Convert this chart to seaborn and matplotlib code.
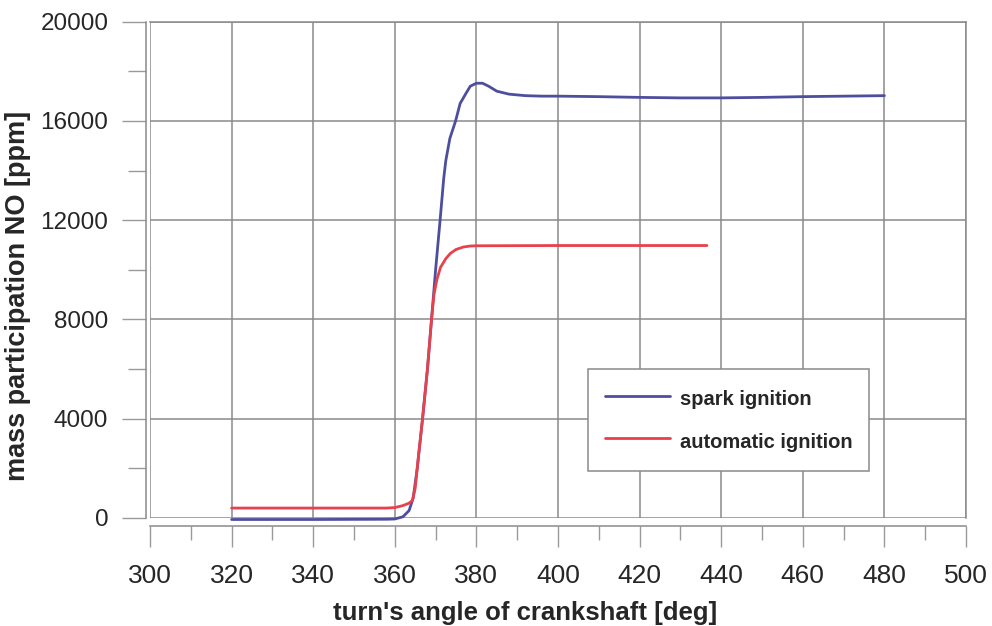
import pandas as pd
import matplotlib
matplotlib.use("Agg")
import matplotlib.pyplot as plt
import matplotlib.ticker as mticker
import seaborn as sns

# ── Data ──────────────────────────────────────────────────────────────────────
spark_x = [320, 340, 358, 360, 362, 363.5, 364.5, 365.5, 366.8, 368, 369, 370,
           371.1, 372, 372.5, 373.5, 374.9, 376, 377.4, 378.5, 380, 381.5, 383,
           385, 388, 392, 396, 400, 410, 420, 430, 440, 450, 460, 470, 480]
spark_y = [-60, -60, -50, -40, 50, 300, 800, 2000, 4000, 6000, 8000, 10000,
           12000, 13700, 14400, 15300, 16000, 16700, 17100, 17400, 17520, 17520, 17400,
           17200, 17080, 17020, 17000, 17000, 16980, 16950, 16930, 16930, 16950, 16980, 17000, 17020]

auto_x = [320, 340, 358, 360, 362, 363.5, 364.3, 365, 365.8, 366.8, 368, 369,
          369.6, 370.3, 371.2, 372.5, 373.6, 375, 376.8, 378.5, 380, 400, 420, 436.5]
auto_y = [400, 400, 400, 420, 500, 600, 700, 1200, 2500, 4000, 6000, 8000,
          9000, 9600, 10100, 10450, 10660, 10820, 10920, 10960, 10970, 10980, 10980, 10980]

series_names = ["spark ignition", "automatic ignition"]
x_label = "turn's angle of crankshaft [deg]"
y_label = "mass participation NO [ppm]"

# ── Style ─────────────────────────────────────────────────────────────────────
sns.set_style("ticks")
plt.rcParams["font.family"] = ["Liberation Sans", "DejaVu Sans"]
COLORS = {"spark ignition": "#4e4e9e", "automatic ignition": "#e8404c"}
GRID = "#8a8a8a"

df = pd.concat([
    pd.DataFrame({"angle": spark_x, "NO": spark_y, "mode": series_names[0]}),
    pd.DataFrame({"angle": auto_x, "NO": auto_y, "mode": series_names[1]}),
])

fig = plt.figure(figsize=(9.92, 6.26), dpi=100)
ax = fig.add_axes([150 / 992, (626 - 518) / 626, (966 - 150) / 992, (518 - 21.7) / 626])

sns.lineplot(data=df, x="angle", y="NO", hue="mode", palette=COLORS,
             sort=False, linewidth=2.0, ax=ax, clip_on=False, zorder=5)

ax.set_xlim(300, 500)
ax.set_ylim(0, 20000)
ax.xaxis.set_major_locator(mticker.MultipleLocator(20))
ax.xaxis.set_minor_locator(mticker.MultipleLocator(10))
ax.yaxis.set_major_locator(mticker.MultipleLocator(4000))
ax.yaxis.set_minor_locator(mticker.MultipleLocator(2000))
ax.grid(True, which="major", color=GRID, linewidth=1.1)
ax.set_axisbelow(True)

# offset axis lines below / left of the frame
ax.spines["bottom"].set_position(("outward", 6))
ax.spines["left"].set_position(("outward", 3))
for s in ax.spines.values():
    s.set_color(GRID)
    s.set_linewidth(1.1)

ax.tick_params(axis="x", which="major", length=15, width=1, color="#9a9a9a",
               labelsize=19, pad=12)
ax.tick_params(axis="x", which="minor", length=10, width=1, color="#9a9a9a")
ax.tick_params(axis="y", which="major", length=17, width=1, color="#9a9a9a",
               labelsize=17.5, pad=10)
ax.tick_params(axis="y", which="minor", length=13, width=1, color="#9a9a9a")

ax.set_xlabel(x_label, fontsize=18.5, fontweight="bold")
ax.set_ylabel(y_label, fontsize=19.5, fontweight="bold")
ax.xaxis.set_label_coords((525 - 150) / 816, -(601 - 518) / 496.3)
ax.yaxis.set_label_coords(-(150 - 31) / 816, (518 - 296) / 496.3)

leg = ax.legend(loc="upper left", bbox_to_anchor=((588 - 150) / 816, (518 - 369) / 496.3),
                borderaxespad=0, frameon=True, fancybox=False, framealpha=1,
                edgecolor=GRID, prop={"size": 14.5, "weight": "bold"},
                handlelength=3.2, handletextpad=0.5, handleheight=1.5,
                labelspacing=0.9, borderpad=0.85, title=None)
leg.get_frame().set_linewidth(1.1)
for line in leg.get_lines():
    line.set_linewidth(2.0)

fig.savefig("out.png", dpi=100)
